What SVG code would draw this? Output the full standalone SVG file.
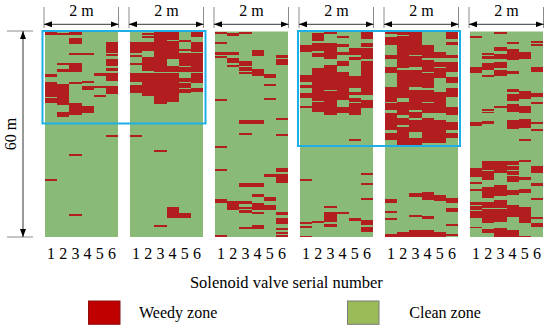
<svg xmlns="http://www.w3.org/2000/svg" width="550" height="329" viewBox="0 0 550 329">
<style>
.bg{fill:#89ba77}
.r rect{fill:#b21e20}
.r rect.g{fill:#89ba77}
.r{shape-rendering:crispEdges}
.t{font-family:'Liberation Serif','DejaVu Serif',serif;font-size:16px;fill:#000}
.ext{stroke:#8c8c8c;stroke-width:1;fill:none}
.dim{stroke:#000;stroke-width:0.8;fill:none}
.box{fill:none;stroke:#1eafe6;stroke-width:2}
</style>
<defs>
<marker id="ah" viewBox="0 0 8 6" refX="8" refY="3" markerWidth="8" markerHeight="6" markerUnits="userSpaceOnUse" orient="auto-start-reverse">
<path d="M0,0 L8,3 L0,6 Z" fill="#000"/>
</marker>
</defs>
<rect width="550" height="329" fill="#fff"/>

<g id="panel1">
<rect class="bg" x="45" y="31.5" width="73" height="205.5"/>
<g class="r" transform="translate(45,0) scale(12.1667,1)">
<rect x="0" y="31.7" width="1" height="3.3"/><rect x="1" y="33" width="1" height="2"/><rect x="2" y="31.7" width="1" height="3.3"/>
<rect x="2" y="37.5" width="1" height="6.8"/><rect x="5" y="42.3" width="1" height="10.7"/><rect x="2" y="52.7" width="2" height="2.3"/>
<rect x="5" y="54" width="1" height="2"/><rect x="5" y="59.3" width="1" height="6.4"/><rect x="1" y="62.5" width="1" height="2"/>
<rect x="1" y="69" width="1" height="2.5"/><rect x="2" y="62.5" width="1" height="9"/><rect x="5" y="67.7" width="1" height="3.3"/>
<rect x="4" y="73.3" width="1" height="2.4"/><rect x="5" y="73.3" width="1" height="7.4"/><rect x="0" y="73.7" width="1" height="2.8"/>
<rect x="0" y="81.7" width="1" height="21.3"/><rect x="1" y="84" width="1" height="21"/><rect x="2" y="81.7" width="1" height="2.3"/>
<rect x="3" y="80.7" width="1" height="2.3"/><rect x="3" y="85.7" width="1" height="4.3"/><rect x="4" y="85.5" width="1" height="2"/>
<rect x="5" y="86" width="1" height="8"/><rect x="4" y="94.5" width="1" height="2"/><rect x="2" y="103" width="1" height="11.5"/>
<rect x="3" y="106" width="1" height="6.5"/><rect x="1" y="111.7" width="1" height="5.3"/><rect x="5" y="134.7" width="1" height="2"/>
<rect x="2" y="154" width="1" height="1.7"/><rect x="0" y="179.3" width="1" height="2"/><rect x="2" y="213.7" width="1" height="2"/>
<rect class="g" x="0" y="97" width="1" height="1.2"/>
</g>
</g>

<g id="panel2">
<rect class="bg" x="130" y="31.5" width="73" height="205.5"/>
<g class="r" transform="translate(130,0) scale(12.1667,1)">
<rect x="1" y="33" width="1" height="2"/><rect x="1" y="36.3" width="1" height="1.2"/><rect x="2" y="31.7" width="1" height="72.3"/>
<rect x="3" y="31.7" width="1" height="27.6"/><rect x="3" y="65.7" width="1" height="36"/><rect x="0" y="42.3" width="1" height="10.7"/>
<rect x="0" y="54.5" width="1" height="2.5"/><rect x="0" y="63" width="1" height="2"/><rect x="0" y="72.7" width="1" height="9"/>
<rect x="0" y="85" width="1" height="8"/><rect x="1" y="42.3" width="1" height="8.4"/><rect x="1" y="56.7" width="1" height="14.3"/>
<rect x="1" y="72.7" width="1" height="23.3"/><rect x="4" y="40" width="1" height="1.5"/><rect x="4" y="49" width="1" height="1.7"/>
<rect x="4" y="53.3" width="1" height="18.2"/><rect x="4" y="77.5" width="1" height="4.2"/><rect x="4" y="83.3" width="1" height="4.7"/>
<rect x="4" y="88.5" width="1" height="4.8"/><rect x="5" y="31.7" width="1" height="5"/><rect x="5" y="42.3" width="1" height="9.4"/>
<rect x="5" y="53.3" width="1" height="18.2"/><rect x="5" y="73.3" width="1" height="10"/><rect x="5" y="88.3" width="1" height="3.4"/>
<rect x="0" y="134.7" width="1" height="2"/><rect x="2" y="150" width="1" height="2"/><rect x="3" y="206.7" width="1" height="11.6"/>
<rect x="4" y="213.3" width="1" height="5"/><rect x="2" y="225" width="1" height="1.7"/>
<rect class="g" x="0" y="71.5" width="6" height="1"/><rect class="g" x="1" y="55" width="1" height="0.9"/><rect class="g" x="3" y="40" width="1" height="0.9"/>
<rect class="g" x="4" y="66" width="1" height="0.9"/><rect class="g" x="2" y="86.5" width="2" height="0.9"/><rect class="g" x="1" y="90.5" width="1" height="0.9"/>
</g>
</g>

<g id="panel3">
<rect class="bg" x="215" y="31.5" width="73" height="205.5"/>
<g class="r" transform="translate(215,0) scale(12.1667,1)">
<rect x="0" y="31.7" width="1" height="2.3"/><rect x="1" y="32.7" width="1" height="3"/><rect x="2" y="31.7" width="1" height="2.3"/>
<rect x="0" y="42.3" width="1" height="1.7"/><rect x="0" y="52.3" width="2" height="2.4"/><rect x="0" y="56" width="1" height="2"/>
<rect x="1" y="58.3" width="1" height="5"/><rect x="1" y="65" width="1" height="2.3"/><rect x="2" y="60.7" width="1" height="5.3"/>
<rect x="3" y="50" width="1" height="6"/><rect x="5" y="55" width="1" height="3.3"/><rect x="5" y="59.3" width="1" height="5.7"/>
<rect x="2" y="67.3" width="1" height="3.4"/><rect x="2" y="71.7" width="1" height="2"/><rect x="3" y="69" width="1" height="6.7"/>
<rect x="4" y="74.3" width="1" height="3.4"/><rect x="4" y="84" width="1" height="1.7"/><rect x="0" y="99" width="1" height="2"/>
<rect x="4" y="98.3" width="1" height="2"/><rect x="2" y="120" width="2" height="4.3"/><rect x="5" y="118.3" width="1" height="1.7"/>
<rect x="2" y="133.3" width="1" height="2"/><rect x="5" y="134" width="1" height="2"/><rect x="0" y="146" width="1" height="1.7"/>
<rect x="0" y="169.3" width="1" height="2"/><rect x="5" y="168.3" width="1" height="3.4"/><rect x="4" y="174.3" width="1" height="2.4"/>
<rect x="5" y="174" width="1" height="8.7"/><rect x="2" y="182.7" width="2" height="4.6"/><rect x="3" y="194" width="1" height="3.3"/>
<rect x="4" y="196.7" width="1" height="4"/><rect x="0" y="199.3" width="1" height="4"/><rect x="1" y="200.5" width="1" height="3.5"/>
<rect x="1" y="204.3" width="1" height="5.7"/><rect x="2" y="200.7" width="1" height="3.3"/><rect x="2" y="207" width="1" height="1.5"/>
<rect x="2" y="210" width="1" height="2.7"/><rect x="3" y="202.7" width="1" height="7.3"/><rect x="3" y="211.7" width="1" height="2.3"/>
<rect x="4" y="205" width="1" height="5"/><rect x="5" y="211.7" width="1" height="3.3"/><rect x="5" y="218.3" width="1" height="5.7"/>
<rect x="5" y="228.3" width="1" height="1.7"/><rect x="5" y="231.7" width="1" height="2.3"/><rect x="5" y="235" width="1" height="1.7"/>
<rect x="2" y="226.7" width="1" height="2.6"/><rect x="3" y="225" width="1" height="3.7"/><rect x="0" y="235.3" width="1" height="1.7"/>
</g>
</g>

<g id="panel4">
<rect class="bg" x="300" y="31.5" width="73" height="205.5"/>
<g class="r" transform="translate(300,0) scale(12.1667,1)">
<rect x="1" y="32.7" width="1" height="8"/><rect x="2" y="31.7" width="1" height="2.3"/><rect x="3" y="36" width="1" height="2"/>
<rect x="5" y="31.7" width="1" height="7.6"/><rect x="0" y="45" width="1" height="6.7"/><rect x="1" y="43.3" width="1" height="7.4"/>
<rect x="2" y="42.7" width="1" height="16.6"/><rect x="1" y="53.3" width="1" height="3.4"/><rect x="3" y="44" width="1" height="2.7"/>
<rect x="3" y="51.7" width="1" height="3.3"/><rect x="4" y="48.3" width="1" height="6.7"/><rect x="5" y="43.3" width="1" height="3.4"/>
<rect x="5" y="48.3" width="1" height="11"/><rect x="3" y="60.7" width="1" height="5.3"/><rect x="4" y="56.7" width="1" height="3.3"/>
<rect x="0" y="75" width="1" height="6.7"/><rect x="0" y="85" width="1" height="3.3"/><rect x="0" y="92.7" width="1" height="5.6"/>
<rect x="0" y="106" width="1" height="2.3"/><rect x="1" y="68.3" width="1" height="43.4"/><rect x="2" y="65" width="1" height="50"/>
<rect x="3" y="71.7" width="1" height="28.3"/><rect x="3" y="106.7" width="1" height="6.6"/><rect x="4" y="76" width="1" height="12.3"/>
<rect x="4" y="91.7" width="1" height="3.3"/><rect x="4" y="98.3" width="1" height="16.7"/><rect x="5" y="60.7" width="1" height="34.3"/>
<rect x="5" y="100" width="1" height="8.3"/><rect x="4" y="139.3" width="1" height="2"/><rect x="0" y="179.3" width="1" height="2"/>
<rect x="5" y="173.3" width="1" height="2"/><rect x="5" y="182.7" width="1" height="2"/><rect x="5" y="198.3" width="1" height="2"/>
<rect x="2" y="206" width="1" height="2.3"/><rect x="2" y="211.7" width="1" height="10"/><rect x="3" y="211.7" width="1" height="2.3"/>
<rect x="4" y="218.3" width="1" height="2.4"/><rect x="0" y="221.7" width="1" height="2.3"/><rect x="1" y="221" width="1" height="2.3"/>
<rect x="5" y="220" width="1" height="5"/><rect x="5" y="226.7" width="1" height="5"/><rect x="0" y="226" width="1" height="1.7"/>
<rect x="2" y="224.3" width="1" height="3"/><rect x="0" y="235.7" width="1" height="1.6"/>
<rect class="g" x="2" y="90" width="1" height="0.9"/><rect class="g" x="1" y="101" width="1" height="0.9"/><rect class="g" x="4" y="102" width="1" height="0.9"/>
</g>
</g>

<g id="panel5">
<rect class="bg" x="385" y="31.5" width="73" height="205.5"/>
<g class="r" transform="translate(385,0) scale(12.1667,1)">
<rect x="0" y="31.7" width="3" height="113.3"/><rect x="3" y="31.7" width="3" height="111.6"/>
<rect class="g" x="0" y="34" width="1" height="2.7"/><rect class="g" x="0" y="45" width="1" height="10"/><rect class="g" x="0" y="59.3" width="1" height="8"/>
<rect class="g" x="0" y="73.3" width="1" height="13.4"/><rect class="g" x="0" y="101.7" width="1" height="1.6"/><rect class="g" x="0" y="110" width="1" height="3.3"/>
<rect class="g" x="0" y="130" width="1" height="3.3"/><rect class="g" x="0" y="140" width="1" height="5"/>
<rect class="g" x="1" y="35" width="1" height="1"/><rect class="g" x="1" y="68.3" width="1" height="1.7"/><rect class="g" x="1" y="98.3" width="1" height="3.4"/>
<rect class="g" x="1" y="115" width="1" height="3.3"/><rect class="g" x="1" y="125" width="1" height="1.7"/>
<rect class="g" x="2" y="55" width="1" height="1"/><rect class="g" x="2" y="66.7" width="1" height="3.3"/><rect class="g" x="2" y="86.7" width="1" height="3.3"/>
<rect class="g" x="2" y="110" width="1" height="1.7"/><rect class="g" x="2" y="118.3" width="1" height="1.7"/><rect class="g" x="2" y="131.7" width="1" height="6.6"/>
<rect class="g" x="3" y="31.7" width="1" height="13.3"/><rect class="g" x="3" y="58.3" width="1" height="1.7"/><rect class="g" x="3" y="71.7" width="1" height="1.6"/>
<rect class="g" x="3" y="88.3" width="1" height="1.7"/><rect class="g" x="3" y="101.7" width="1" height="1.6"/><rect class="g" x="3" y="113.3" width="1" height="5"/>
<rect class="g" x="4" y="31.7" width="1" height="20"/><rect class="g" x="4" y="58.3" width="1" height="3.4"/><rect class="g" x="4" y="66.7" width="1" height="1.6"/>
<rect class="g" x="4" y="78.3" width="1" height="13.4"/><rect class="g" x="4" y="113.3" width="1" height="6.7"/>
<rect class="g" x="5" y="39.3" width="1" height="2.4"/><rect class="g" x="5" y="45" width="1" height="10"/><rect class="g" x="5" y="58.3" width="1" height="3.4"/>
<rect class="g" x="5" y="71.7" width="1" height="5"/><rect class="g" x="5" y="83.3" width="1" height="5"/><rect class="g" x="5" y="96.7" width="1" height="10"/>
<rect class="g" x="5" y="115" width="1" height="6.7"/><rect class="g" x="5" y="130" width="1" height="3.3"/><rect class="g" x="5" y="138.3" width="1" height="5"/>
<rect x="2" y="193.3" width="1" height="4"/><rect x="3" y="191.7" width="1" height="8.3"/><rect x="4" y="195" width="1" height="5.7"/>
<rect x="5" y="198.3" width="1" height="5"/><rect x="0" y="199.3" width="1" height="4"/><rect x="5" y="208.3" width="1" height="3.4"/>
<rect x="0" y="211" width="1" height="1.7"/><rect x="2" y="215" width="1" height="1.7"/><rect x="3" y="216" width="1" height="3.3"/>
<rect x="0" y="218.3" width="1" height="1.7"/><rect x="5" y="224" width="1" height="2"/><rect x="2" y="229.5" width="2" height="7.8"/>
<rect x="1" y="231.7" width="1" height="5.6"/><rect x="4" y="231.5" width="1" height="3.5"/><rect x="0" y="233.5" width="5" height="3.8"/>
<rect x="5" y="234" width="1" height="2"/>
</g>
</g>

<g id="panel6">
<rect class="bg" x="470" y="31.5" width="73" height="205.5"/>
<g class="r" transform="translate(470,0) scale(12.1667,1)">
<rect x="0" y="35.7" width="1" height="2"/><rect x="2" y="31.7" width="1" height="2.3"/><rect x="3" y="42.3" width="1" height="2"/>
<rect x="5" y="41" width="1" height="1.5"/><rect x="5" y="43.5" width="1" height="2.2"/><rect x="2" y="46.7" width="1" height="4"/>
<rect x="1" y="53.3" width="1" height="1.5"/><rect x="1" y="55.5" width="1" height="3.5"/><rect x="2" y="54.3" width="1" height="4.7"/>
<rect x="3" y="49" width="1" height="11"/><rect x="4" y="52.3" width="1" height="6.7"/><rect x="0" y="66.7" width="1" height="6"/>
<rect x="1" y="63.3" width="1" height="6.7"/><rect x="1" y="75" width="1" height="2.3"/><rect x="2" y="61.7" width="1" height="6.6"/>
<rect x="2" y="70" width="1" height="6"/><rect x="3" y="70.7" width="1" height="3.3"/><rect x="5" y="67.3" width="1" height="4.4"/>
<rect x="3" y="89.3" width="1" height="2.4"/><rect x="3" y="94" width="1" height="6.7"/><rect x="4" y="91" width="1" height="8.3"/>
<rect x="5" y="93.3" width="1" height="3.4"/><rect x="5" y="102.3" width="1" height="1.7"/><rect x="2" y="105.7" width="1" height="2"/>
<rect x="1" y="109.3" width="1" height="1.5"/><rect x="1" y="111.5" width="1" height="1.8"/><rect x="3" y="104" width="1" height="7.7"/>
<rect x="4" y="106" width="1" height="6.7"/><rect x="0" y="121.7" width="1" height="4"/><rect x="1" y="120.7" width="1" height="3.3"/>
<rect x="3" y="120" width="1" height="9.3"/><rect x="4" y="119.3" width="1" height="9"/><rect x="5" y="121.7" width="1" height="2.3"/>
<rect x="5" y="129" width="1" height="2"/><rect x="4" y="139.3" width="1" height="1.7"/>
<rect x="0" y="168.3" width="1" height="8.4"/><rect x="0" y="181.7" width="1" height="2.3"/><rect x="0" y="189.3" width="1" height="2"/>
<rect x="0" y="201.7" width="1" height="16.6"/><rect x="0" y="226.7" width="1" height="1.6"/><rect x="1" y="160.7" width="1" height="19.3"/>
<rect x="1" y="186.7" width="1" height="11.6"/><rect x="1" y="201.7" width="1" height="21.6"/><rect x="1" y="229.3" width="1" height="4"/>
<rect x="2" y="161" width="1" height="12.3"/><rect x="2" y="185" width="1" height="10.7"/><rect x="2" y="200" width="1" height="21.7"/>
<rect x="2" y="228.3" width="1" height="8.4"/><rect x="3" y="161" width="1" height="20.7"/><rect x="3" y="190" width="1" height="5"/>
<rect x="3" y="205" width="1" height="11.7"/><rect x="3" y="230" width="1" height="7.3"/><rect x="4" y="160" width="1" height="1.7"/>
<rect x="4" y="176.7" width="1" height="3.3"/><rect x="4" y="189.3" width="1" height="4"/><rect x="4" y="206.7" width="1" height="16.6"/>
<rect x="4" y="235.5" width="1" height="1.8"/><rect x="5" y="166" width="1" height="6.7"/><rect x="5" y="183.3" width="1" height="2.4"/>
<rect x="5" y="198.3" width="1" height="2"/><rect x="5" y="216.7" width="1" height="2.6"/><rect x="5" y="223.3" width="1" height="3.4"/>
<rect class="g" x="1" y="170" width="1" height="1"/><rect class="g" x="0" y="205" width="1" height="0.9"/><rect class="g" x="0" y="210" width="1" height="0.9"/>
<rect class="g" x="1" y="208" width="2" height="0.9"/><rect class="g" x="3" y="165" width="1" height="0.9"/><rect class="g" x="3" y="170" width="1" height="0.9"/>
<rect class="g" x="3" y="175" width="1" height="0.9"/>
</g>
</g>

<g id="highlight-boxes">
<rect class="box" x="42.5" y="31" width="163" height="92.5"/>
<rect class="box" x="298" y="31" width="162" height="115"/>
</g>

<g id="connectors">
<path class="ext" d="M44,7V28M118.5,7V28M129,7V28M203.5,7V28M214,7V28M288.5,7V28M299,7V28M373.5,7V28M384,7V28M458.5,7V28M469,7V28M543.5,7V28"/>
<path class="ext" d="M7,31H33M7,237H33"/>
<line class="dim" x1="44" y1="24.3" x2="118.5" y2="24.3" marker-start="url(#ah)" marker-end="url(#ah)"/>
<line class="dim" x1="129" y1="24.3" x2="203.5" y2="24.3" marker-start="url(#ah)" marker-end="url(#ah)"/>
<line class="dim" x1="214" y1="24.3" x2="288.5" y2="24.3" marker-start="url(#ah)" marker-end="url(#ah)"/>
<line class="dim" x1="299" y1="24.3" x2="373.5" y2="24.3" marker-start="url(#ah)" marker-end="url(#ah)"/>
<line class="dim" x1="384" y1="24.3" x2="458.5" y2="24.3" marker-start="url(#ah)" marker-end="url(#ah)"/>
<line class="dim" x1="469" y1="24.3" x2="543.5" y2="24.3" marker-start="url(#ah)" marker-end="url(#ah)"/>
<line class="dim" x1="23" y1="31" x2="23" y2="237" marker-start="url(#ah)" marker-end="url(#ah)"/>
</g>

<g id="labels" font-family="'Liberation Serif', serif">
<text class="t" x="81.5" y="16" text-anchor="middle">2 m</text>
<text class="t" x="166.5" y="16" text-anchor="middle">2 m</text>
<text class="t" x="251.5" y="16" text-anchor="middle">2 m</text>
<text class="t" x="336.5" y="16" text-anchor="middle">2 m</text>
<text class="t" x="421.5" y="16" text-anchor="middle">2 m</text>
<text class="t" x="506.5" y="16" text-anchor="middle">2 m</text>
<text class="t" transform="translate(16,134) rotate(-90)" text-anchor="middle">60 m</text>
<text class="t" y="259" text-anchor="middle" x="51.1 63.3 75.4 87.6 99.8 111.9">123456</text>
<text class="t" y="259" text-anchor="middle" x="136.1 148.3 160.4 172.6 184.8 196.9">123456</text>
<text class="t" y="259" text-anchor="middle" x="221.1 233.3 245.4 257.6 269.8 281.9">123456</text>
<text class="t" y="259" text-anchor="middle" x="306.1 318.3 330.4 342.6 354.8 366.9">123456</text>
<text class="t" y="259" text-anchor="middle" x="391.1 403.3 415.4 427.6 439.8 451.9">123456</text>
<text class="t" y="259" text-anchor="middle" x="476.1 488.3 500.4 512.6 524.8 536.9">123456</text>
<text class="t" x="286.4" y="287.7" text-anchor="middle" style="font-size:16.5px">Solenoid valve serial number</text>
</g>

<g id="legend">
<g id="legend-weedy">
<rect x="88.5" y="301" width="31.5" height="23.3" fill="#c00000" stroke="#8a1010" stroke-width="1"/>
<text class="t" x="139" y="318.3">Weedy zone</text>
</g>
<g id="legend-clean">
<rect x="347.5" y="301" width="31.5" height="23.3" fill="#9bbb59" stroke="#7a7a7a" stroke-width="1"/>
<text class="t" x="409.3" y="318.3">Clean zone</text>
</g>
</g>
</svg>
